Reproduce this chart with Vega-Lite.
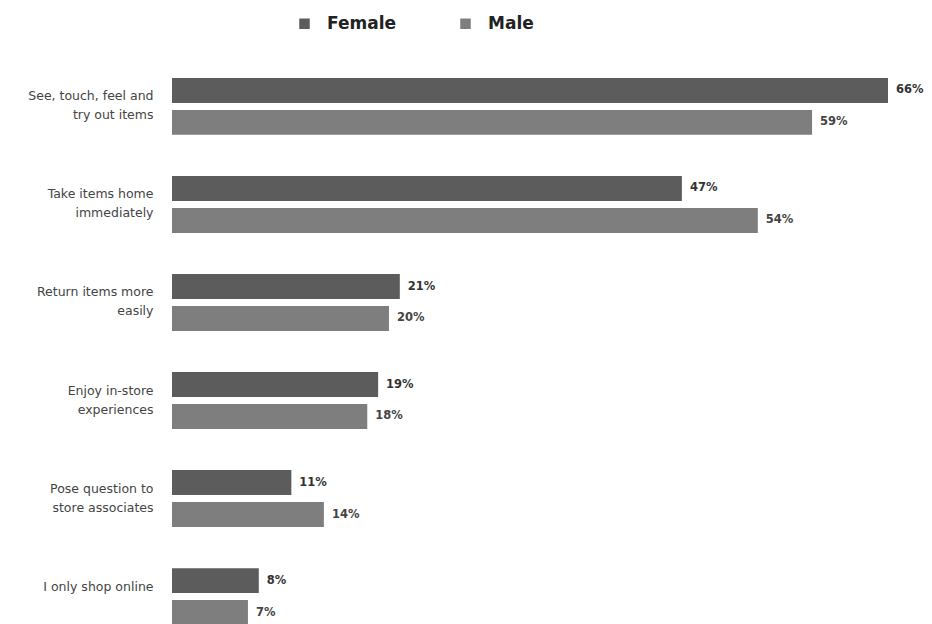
{
  "$schema": "https://vega.github.io/schema/vega-lite/v6.json",
  "width": 716,
  "height": 547,
  "autosize": "none",
  "padding": {"left": 172, "top": 78, "right": 44, "bottom": 0},
  "background": "white",
  "config": {
    "view": {"stroke": null},
    "font": "DejaVu Sans"
  },
  "data": {
    "values": [
      {"reason": "See, touch, feel and|try out items", "gender": "Female", "pct": 0.66},
      {"reason": "See, touch, feel and|try out items", "gender": "Male", "pct": 0.59},
      {"reason": "Take items home|immediately", "gender": "Female", "pct": 0.47},
      {"reason": "Take items home|immediately", "gender": "Male", "pct": 0.54},
      {"reason": "Return items more|easily", "gender": "Female", "pct": 0.21},
      {"reason": "Return items more|easily", "gender": "Male", "pct": 0.20},
      {"reason": "Enjoy in-store|experiences", "gender": "Female", "pct": 0.19},
      {"reason": "Enjoy in-store|experiences", "gender": "Male", "pct": 0.18},
      {"reason": "Pose question to|store associates", "gender": "Female", "pct": 0.11},
      {"reason": "Pose question to|store associates", "gender": "Male", "pct": 0.14},
      {"reason": "I only shop online", "gender": "Female", "pct": 0.08},
      {"reason": "I only shop online", "gender": "Male", "pct": 0.07}
    ]
  },
  "encoding": {
    "y": {
      "field": "reason",
      "type": "nominal",
      "sort": null,
      "scale": {"paddingInner": 0.42, "paddingOuter": 0},
      "axis": {
        "title": null,
        "domain": false,
        "ticks": false,
        "labelPadding": 19,
        "labelExpr": "split(datum.label, '|')",
        "labelFontSize": 12.5,
        "labelColor": "#444",
        "labelLineHeight": 19,
        "labelOffset": -10
      }
    },
    "yOffset": {
      "field": "gender",
      "type": "nominal",
      "sort": ["Female", "Male"],
      "scale": {"paddingInner": 0.22, "paddingOuter": 0}
    },
    "x": {
      "field": "pct",
      "type": "quantitative",
      "scale": {"domain": [0, 0.66], "nice": false},
      "axis": null
    }
  },
  "layer": [
    {
      "mark": {"type": "bar"},
      "encoding": {
        "color": {
          "field": "gender",
          "type": "nominal",
          "sort": ["Female", "Male"],
          "scale": {"domain": ["Female", "Male"], "range": ["#5c5c5c", "#7e7e7e"]},
          "legend": {
            "title": null,
            "orient": "none",
            "direction": "horizontal",
            "legendX": 124,
            "legendY": -63,
            "symbolType": "square",
            "symbolSize": 110,
            "symbolStrokeWidth": 0,
            "labelFontSize": 17,
            "labelFontWeight": "bold",
            "labelColor": "#222",
            "columnPadding": 61,
            "labelOffset": 14
          }
        }
      }
    },
    {
      "transform": [{"filter": "datum.gender == 'Female'"}],
      "mark": {"type": "text", "align": "left", "dx": 8, "fontSize": 11.5, "fontWeight": "bold", "color": "#333"},
      "encoding": {"text": {"field": "pct", "type": "quantitative", "format": ".0%"}}
    },
    {
      "transform": [{"filter": "datum.gender == 'Male'"}],
      "mark": {"type": "text", "align": "left", "dx": 8, "fontSize": 11.5, "fontWeight": 600, "color": "#444"},
      "encoding": {"text": {"field": "pct", "type": "quantitative", "format": ".0%"}}
    }
  ]
}
